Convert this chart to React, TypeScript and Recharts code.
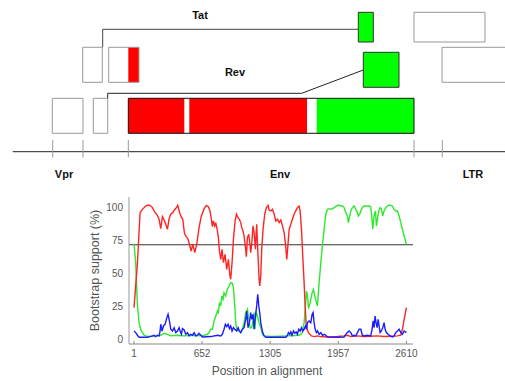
import React from 'react';
import {
  ComposedChart,
  LineChart,
  Line,
  XAxis,
  YAxis,
  ReferenceArea,
  ReferenceLine,
  Scatter,
} from 'recharts';

// ---- genome map (map units run left to right across the figure) ----
type Parent = 'A' | 'B' | null;

const orfBoxes: { name: string; start: number; end: number; row: string; parent: Parent }[] = [
  { name: 'tat exon 2', start: 358.3, end: 373.3, row: 'top', parent: 'B' },
  { name: 'nef', start: 414, end: 485, row: 'top', parent: null },
  { name: 'vif', start: 82.7, end: 102.3, row: 'mid', parent: null },
  { name: 'vpu', start: 108.7, end: 139, row: 'mid', parent: null },
  { name: 'rev exon 2', start: 363.3, end: 399, row: 'revB', parent: 'B' },
  { name: "3' LTR", start: 442, end: 515, row: 'mid', parent: null },
  { name: 'vpr', start: 52.3, end: 83, row: 'low', parent: null },
  { name: 'tat exon 1', start: 93.3, end: 107.7, row: 'low', parent: null },
  { name: 'env', start: 128.3, end: 414, row: 'low', parent: null },
];

const orfSegments: { start: number; end: number; row: string; parent: Parent }[] = [
  { start: 128.3, end: 139, row: 'mid', parent: 'A' },
  { start: 128.3, end: 184.3, row: 'low', parent: 'A' },
  { start: 189.3, end: 307, row: 'low', parent: 'A' },
  { start: 316.7, end: 414, row: 'low', parent: 'B' },
];

const tatLink = [
  { x: 102.7, y: 47.3 },
  { x: 102.7, y: 29.3 },
  { x: 358.3, y: 29.3 },
];
const revLink = [
  { x: 107.7, y: 98.3 },
  { x: 107.7, y: 93.3 },
  { x: 301.7, y: 93.3 },
  { x: 363.3, y: 70 },
];

const mapTicks = [52.7, 83, 128.3, 414, 442.3];

const mapLabels = [
  { name: 'Tat', x: 200, y: 15 },
  { name: 'Rev', x: 235, y: 72 },
  { name: 'Vpr', x: 64, y: 174 },
  { name: 'Env', x: 280, y: 174 },
  { name: 'LTR', x: 473, y: 174 },
];

// ---- bootscan: [position in alignment, bootstrap %] ----
const redSeries: [number, number][] = [
  [1, 22.6], [34, 56.5], [59, 94.2], [81, 96.7], [113, 99.2], [136, 100], [155, 99.7],
  [177, 98], [193, 95.5], [209, 93.7], [225, 92.2], [241, 89.2], [257, 82.2], [273, 91.2],
  [289, 88.7], [305, 85.4], [321, 81.7], [337, 89.7], [353, 93], [372, 94.2], [388, 96.2],
  [404, 97.7], [420, 99.7], [436, 94.7], [452, 91.2], [468, 89.2], [484, 78.7], [500, 76.1],
  [516, 74.6], [532, 70.4], [548, 65.3], [564, 70.4], [583, 64.1], [602, 70.4], [624, 82.9],
  [646, 91.7], [672, 97.2], [694, 99.7], [713, 98.7], [729, 95.5], [742, 89.2], [752, 83.7],
  [761, 88], [774, 84.2], [784, 86.7], [800, 80.4], [809, 75.4], [819, 65.3], [832, 59],
  [844, 66.6], [857, 56.5], [873, 62.8], [889, 51.5], [905, 59], [918, 47.7], [927, 44],
  [940, 56.5], [953, 74.1], [969, 87.9], [982, 93], [998, 90.5], [1010, 89.2], [1023, 86.7],
  [1033, 82.9], [1045, 80.4], [1055, 76.6], [1065, 70.4], [1077, 61], [1087, 75.4],
  [1100, 77.9], [1109, 71.6], [1119, 64.1], [1128, 70.4], [1141, 84.2], [1151, 79.2],
  [1164, 66.6], [1170, 77.9], [1176, 85.4], [1183, 71.6], [1192, 56.5], [1199, 44],
  [1205, 39], [1215, 46.5], [1224, 66.6], [1237, 81.7], [1253, 93], [1269, 98], [1285, 99.7],
  [1295, 96.2], [1311, 95.5], [1327, 96.7], [1343, 93], [1359, 87.9], [1375, 89.2],
  [1391, 86.7], [1407, 88.7], [1423, 84.2], [1439, 79.2], [1455, 67.8], [1464, 59],
  [1477, 71.6], [1487, 81.7], [1503, 85.4], [1518, 89.2], [1534, 93], [1550, 95.5],
  [1566, 98], [1582, 99.2], [1592, 95.5], [1605, 81.7], [1617, 61.6], [1630, 41.5],
  [1640, 23.9], [1649, 11.3], [1659, 6.3], [1672, 3.8], [1685, 2.5], [1700, 1.3],
  [1726, 0.8], [1758, 1.3], [1790, 0.8], [1854, 0.5], [1949, 0.8], [2013, 1.3], [2045, 1.8],
  [2077, 0.8], [2141, 1.3], [2204, 0.8], [2268, 1], [2332, 1.3], [2396, 0.8], [2460, 1],
  [2524, 1.3], [2556, 1.8], [2572, 6.3], [2588, 13.8], [2610, 22.6],
];

const greenSeries: [number, number][] = [
  [1, 70.9], [17, 56.5], [34, 23.9], [50, 11.3], [66, 5.8], [82, 3.8], [98, 1.8], [113, 1.3],
  [161, 0.8], [225, 1.3], [257, 1.8], [289, 3.3], [321, 2.5], [353, 1.3], [417, 1.8],
  [481, 1.3], [545, 1.8], [609, 1.3], [672, 1.8], [704, 2.5], [720, 3.8], [736, 6.3],
  [752, 6.3], [768, 12.6], [784, 16.3], [800, 20.1], [809, 18.9], [819, 26.4], [832, 23.9],
  [841, 31.4], [854, 28.9], [863, 33.9], [879, 31.4], [895, 36.4], [911, 38.9], [927, 41.5],
  [943, 41], [953, 37.7], [966, 23.9], [975, 11.3], [985, 6.3], [1007, 5], [1023, 3.8],
  [1039, 6.3], [1055, 11.3], [1071, 18.9], [1087, 21.4], [1100, 13.8], [1113, 7.5],
  [1128, 7.5], [1141, 12.6], [1151, 18.9], [1160, 6.3], [1170, 20.1], [1183, 16.3],
  [1199, 11.3], [1215, 7.5], [1231, 2.5], [1247, 1.3], [1317, 0.8], [1471, 1.3], [1582, 1.8],
  [1598, 2.5], [1614, 3.8], [1630, 11.3], [1643, 23.9], [1653, 35.2], [1662, 31.4],
  [1672, 22.6], [1681, 23.9], [1694, 28.9], [1707, 33.9], [1720, 36.4], [1732, 31.4],
  [1748, 26.4], [1758, 23.9], [1774, 41.5], [1790, 56.5], [1806, 70.4], [1822, 81.7],
  [1838, 93], [1854, 96.7], [1870, 97.2], [1892, 96.7], [1918, 98], [1950, 99.7],
  [1965, 100], [1981, 99.2], [1997, 99.2], [2013, 98], [2029, 94.2], [2045, 91.7],
  [2054, 86.7], [2064, 90.5], [2077, 95.5], [2093, 98], [2109, 99.2], [2125, 96.7],
  [2141, 94.2], [2150, 91.7], [2163, 93], [2179, 96.7], [2195, 98.7], [2211, 99.2],
  [2252, 99.2], [2268, 98.7], [2278, 91.7], [2287, 81.7], [2300, 91.7], [2313, 95.5],
  [2323, 84.2], [2332, 89.2], [2345, 95.5], [2358, 98], [2370, 97.2], [2383, 91.7],
  [2396, 95.5], [2412, 98], [2428, 99.2], [2444, 100], [2460, 99.7], [2476, 99.2],
  [2492, 96.7], [2508, 95.5], [2524, 95.5], [2540, 91.7], [2556, 86.7], [2572, 81.7],
  [2588, 76.6], [2610, 70.4],
];

const blueSeries: [number, number][] = [
  [1, 5], [17, 3.8], [34, 1.8], [50, 0.3], [129, 0.3], [177, 1.3], [193, 1.8], [209, 0.8],
  [225, 1.8], [241, 1.3], [251, 5], [257, 10.1], [270, 5], [283, 8.8], [299, 10.1],
  [311, 13.8], [327, 17.6], [340, 12.6], [353, 6.3], [369, 5], [385, 7.5], [401, 3.8],
  [417, 5], [433, 7.5], [442, 5], [455, 2.5], [465, 6.8], [481, 5.8], [497, 2.5], [513, 3.8],
  [529, 1.3], [545, 2.5], [561, 1.8], [577, 3.8], [592, 1.3], [609, 1.8], [624, 3.3],
  [640, 1.8], [656, 0.5], [736, 0.8], [800, 1.8], [832, 1.3], [847, 2.5], [863, 6.3],
  [876, 10.1], [889, 8.3], [902, 10.1], [915, 6.8], [927, 8.8], [940, 5], [953, 7.5],
  [966, 6.3], [985, 5], [998, 7.5], [1010, 5], [1023, 3.8], [1039, 6.3], [1055, 7.5],
  [1071, 13.8], [1081, 20.1], [1093, 7.5], [1106, 11.3], [1119, 18.9], [1128, 13.8],
  [1141, 17.6], [1151, 6.3], [1164, 16.3], [1176, 23.9], [1186, 32.7], [1196, 23.9],
  [1205, 18.9], [1215, 11.3], [1224, 7.5], [1234, 3.8], [1247, 1.3], [1263, 0.3],
  [1455, 0.3], [1471, 1.8], [1480, 3.8], [1493, 2.5], [1503, 4.3], [1515, 1.8], [1528, 5],
  [1541, 3.3], [1554, 4.3], [1566, 2.5], [1579, 6.3], [1592, 5], [1605, 7.5], [1617, 5],
  [1630, 6.3], [1643, 8.8], [1653, 6.3], [1662, 11.3], [1678, 12.6], [1694, 11.3],
  [1707, 17.6], [1716, 18.9], [1726, 11.3], [1736, 6.3], [1748, 3.8], [1758, 5], [1774, 2.5],
  [1790, 3.8], [1806, 1.8], [1822, 2.5], [1838, 1.8], [1854, 0.5], [1949, 0.3], [2013, 0.5],
  [2029, 2.5], [2045, 3.8], [2061, 5], [2077, 3.8], [2093, 1.3], [2109, 1.8], [2125, 1.3],
  [2141, 3.8], [2157, 6.3], [2173, 6.3], [2188, 1.8], [2204, 1.3], [2236, 1.8], [2268, 1.3],
  [2281, 6.3], [2291, 12.6], [2300, 7.5], [2310, 16.3], [2319, 11.3], [2329, 7.5],
  [2339, 13.8], [2348, 8.8], [2358, 3.8], [2370, 5], [2383, 7.5], [2396, 11.3], [2406, 6.3],
  [2418, 3.8], [2434, 2.5], [2453, 1.3], [2476, 0.5], [2492, 1.3], [2508, 3.8], [2524, 5],
  [2540, 6.3], [2556, 3.8], [2572, 2.5], [2588, 5], [2610, 3.8],
];

const xTicks = [1, 652, 1305, 1957, 2610];
const yTicks = [0, 25, 50, 75, 100];
const threshold = 70;

// ---- layout ----
const rowBands: Record<string, [number, number]> = {
  top: [12.3, 42],
  mid: [47.3, 82.3],
  revB: [52.3, 87.3],
  low: [98.3, 133.3],
};
const parentColor = (p: Parent) => (p === 'A' ? '#ff0000' : p === 'B' ? '#00ff00' : 'none');
const FONT = '"Liberation Sans", Arial, sans-serif';

const toPoints = (s: [number, number][]) => s.map(([pos, value]) => ({ pos, value }));

function GenomeMap() {
  return (
    <ComposedChart width={505} height={185} margin={{ top: 0, right: 0, bottom: 0, left: 0 }}>
      <XAxis type="number" dataKey="x" domain={[0, 505]} hide />
      <YAxis type="number" dataKey="y" domain={[0, 185]} reversed hide width={0} />
      {orfSegments.map((s, i) => (
        <ReferenceArea
          key={`seg${i}`}
          x1={s.start}
          x2={s.end}
          y1={rowBands[s.row][0]}
          y2={rowBands[s.row][1]}
          fill={parentColor(s.parent)}
          fillOpacity={1}
          stroke="none"
          ifOverflow="visible"
        />
      ))}
      {orfBoxes.map((b) => (
        <ReferenceArea
          key={b.name}
          x1={b.start}
          x2={b.end}
          y1={rowBands[b.row][0]}
          y2={rowBands[b.row][1]}
          fill={parentColor(b.parent)}
          fillOpacity={1}
          stroke={b.name === 'env' ? '#111' : b.parent ? '#333' : '#999'}
          strokeWidth={1}
          ifOverflow="visible"
        />
      ))}
      <Line data={tatLink} dataKey="y" type="linear" stroke="#444" strokeWidth={1} dot={false} isAnimationActive={false} />
      <Line data={revLink} dataKey="y" type="linear" stroke="#222" strokeWidth={1} dot={false} isAnimationActive={false} />
      <ReferenceLine
        segment={[{ x: 12.7, y: 151.7 }, { x: 505, y: 151.7 }]}
        stroke="#222"
        ifOverflow="visible"
      />
      {mapTicks.map((t) => (
        <ReferenceLine
          key={`t${t}`}
          segment={[{ x: t, y: 140 }, { x: t, y: 157.3 }]}
          stroke="#999"
          ifOverflow="visible"
        />
      ))}
      <Scatter
        data={mapLabels}
        isAnimationActive={false}
        shape={(p: any) => (
          <text
            x={p.cx}
            y={p.cy}
            textAnchor="middle"
            dominantBaseline="central"
            fontFamily={FONT}
            fontWeight="bold"
            fontSize={11}
            fill="#111"
          >
            {p.payload.name}
          </text>
        )}
      />
    </ComposedChart>
  );
}

function Bootscan() {
  return (
    <LineChart width={505} height={196} margin={{ top: 12, right: 92, bottom: 0, left: 89 }}>
      <XAxis
        type="number"
        dataKey="pos"
        domain={[-47, 2673]}
        ticks={xTicks}
        height={37}
        tickSize={-3}
        tickMargin={9}
        stroke="#888"
        tick={{ fontSize: 10, fill: '#555', fontFamily: FONT }}
        label={({ viewBox }: any) => (
          <text
            x={viewBox.x + viewBox.width / 2 - 4}
            y={viewBox.y + 31}
            textAnchor="middle"
            fontSize={12}
            fill="#555"
            fontFamily={FONT}
          >
            Position in alignment
          </text>
        )}
      />
      <YAxis
        type="number"
        domain={[-4.8, 106]}
        ticks={yTicks}
        width={40}
        tickLine={false}
        tickSize={6}
        tickMargin={0}
        stroke="#999"
        tick={{ fontSize: 10, fill: '#555', fontFamily: FONT, dy: 2 }}
        label={({ viewBox }: any) => {
          const cx = viewBox.x + 6;
          const cy = viewBox.y + viewBox.height / 2;
          return (
            <text
              x={cx}
              y={cy}
              transform={`rotate(-90 ${cx} ${cy})`}
              textAnchor="middle"
              dominantBaseline="central"
              fontSize={12.5}
              fill="#555"
              fontFamily={FONT}
            >
              Bootstrap support (%)
            </text>
          );
        }}
      />
      <ReferenceLine y={threshold} stroke="#333" strokeWidth={1} />
      <Line data={toPoints(greenSeries)} dataKey="value" type="linear" stroke="#2ee82e" strokeWidth={1.4} dot={false} isAnimationActive={false} />
      <Line data={toPoints(redSeries)} dataKey="value" type="linear" stroke="#ff2424" strokeWidth={1.4} dot={false} isAnimationActive={false} />
      <Line data={toPoints(blueSeries)} dataKey="value" type="linear" stroke="#1c1cff" strokeWidth={1.4} dot={false} isAnimationActive={false} />
    </LineChart>
  );
}

export default function App() {
  return (
    <div style={{ position: 'absolute', left: 0, top: 0, width: 505, height: 381, background: '#fff', overflow: 'hidden' }}>
      <div style={{ position: 'absolute', left: 0, top: 0 }}>
        <GenomeMap />
      </div>
      <div style={{ position: 'absolute', left: 0, top: 185 }}>
        <Bootscan />
      </div>
    </div>
  );
}
